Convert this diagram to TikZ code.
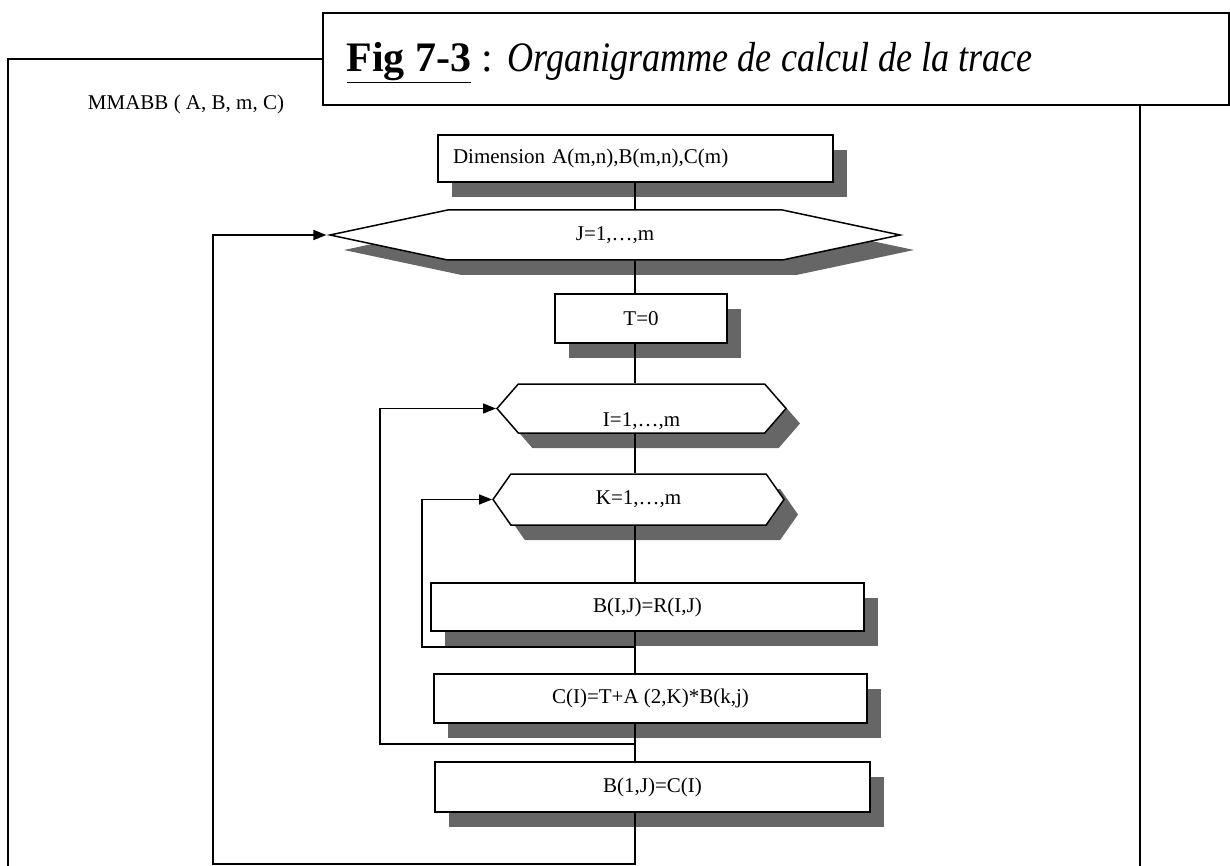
\documentclass[tikz,border=0pt]{standalone}
\usepackage{fontspec}
\setmainfont{Liberation Serif}
\usetikzlibrary{shapes.symbols,shadows,arrows.meta,calc}

\newcommand\lab{\fontsize{21}{25}\selectfont}

\tikzset{
	shade box/.style={drop shadow={shadow xshift=14pt,shadow yshift=-15pt,fill=black!60,opacity=1}},
	procbox/.style={draw,rectangle,line width=1.5pt,fill=white,inner sep=0pt,font=\lab,shade box},
	loopbox/.style={draw,signal,signal to=west and east,line width=1.5pt,fill=white,inner sep=0pt,font=\lab,shade box},
	flow/.style={line width=1.5pt},
	back/.style={line width=1.5pt,-{Triangle[length=13pt,width=10pt]}}
}

\begin{document}
\begin{tikzpicture}[x=1pt,y=-1pt]
	\useasboundingbox (0,0) rectangle (1230,866);

	% cadre et titre
	\draw[line width=1.6pt] (8,866) -- (8,59) -- (322,59);
	\draw[line width=1.6pt] (1140,104) -- (1140,866);
	\node[draw,line width=1.6pt,minimum width=906pt,minimum height=92pt,anchor=north west] (titre) at (322,12) {};
	\node[anchor=base west,font=\fontsize{42}{48}\selectfont] (fig) at (343,72)
		{\textbf{\underline{Fig 7-3}} : \scalebox{0.86}[1]{\textit{Organigramme de calcul de la trace}}};
	\node[font=\lab] (proc) at (186,104) {MMABB ( A, B, m, C)};

	\coordinate (axe) at (635,0);

	% blocs
	\node[procbox,minimum width=395pt,minimum height=47pt,text width=365pt,align=left] (dim) at (635.5,158.5) {Dimension A(m,n),B(m,n),C(m)};
	\node[loopbox,minimum width=570pt,minimum height=50pt,signal pointer angle=24] (J) at (615,235) {J=1,…,m};
	\node[procbox,minimum width=172pt,minimum height=49pt] (T) at (641,318.5) {T=0};
	\node[loopbox,minimum width=289pt,minimum height=49pt,signal pointer angle=98] (I) at (641.5,408.5) {\raisebox{-18pt}[0pt][0pt]{I=1,…,m}};
	\node[loopbox,minimum width=291pt,minimum height=51pt,signal pointer angle=110] (K) at (638.5,499.5) {K=1,…,m};
	\node[procbox,minimum width=433pt,minimum height=48pt] (BR) at (647.5,607) {B(I,J)=R(I,J)};
	\node[procbox,minimum width=433pt,minimum height=49pt] (C) at (650.5,698.5) {C(I)=T+A (2,K)*B(k,j)};
	\node[procbox,minimum width=435pt,minimum height=50pt] (BC) at (652.5,787) {B(1,J)=C(I)};

	% liaisons
	\draw[flow] (dim.south -| axe) -- (J.north -| axe);
	\draw[flow] (J.south -| axe) -- (T.north -| axe);
	\draw[flow] (T.south -| axe) -- (I.north -| axe);
	\draw[flow] (I.south -| axe) -- (K.north -| axe);
	\draw[flow] (K.south -| axe) -- (BR.north -| axe);
	\draw[flow] (BR.south -| axe) -- (C.north -| axe);
	\draw[flow] (C.south -| axe) -- (BC.north -| axe);

	% boucles
	\coordinate (kbas) at (422,647);
	\coordinate (ibas) at (380,744);
	\coordinate (jbas) at (213,864);
	\draw[back] (axe |- kbas) -- (kbas) |- (K.west);
	\draw[back] (axe |- ibas) -- (ibas) |- (I.west);
	\draw[back] (BC.south -| axe) -- (axe |- jbas) -- (jbas) |- (J.west);
\end{tikzpicture}
\end{document}
